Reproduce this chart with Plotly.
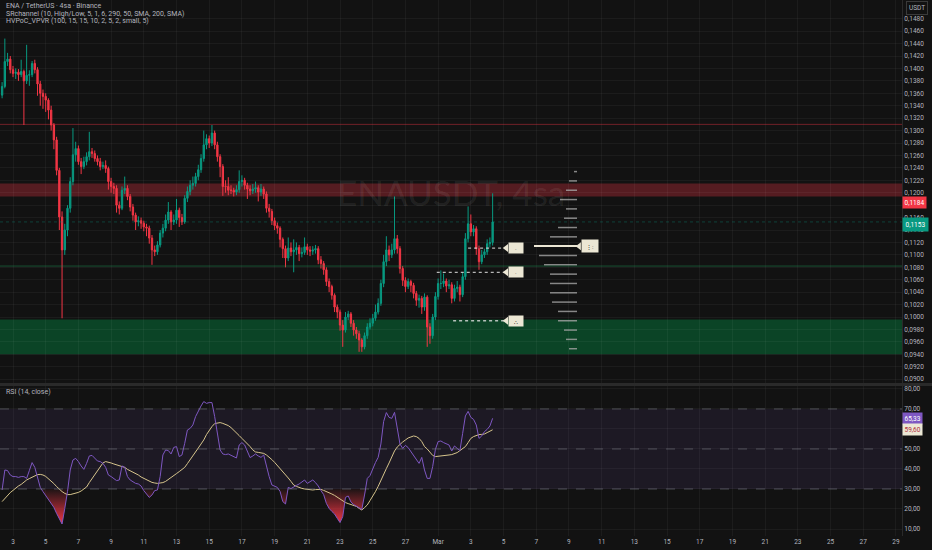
import pandas as pd
import plotly.graph_objects as go

# ENA / TetherUS 4h candles, prices in 1/10000 USDT
first_open = 1357
close_px = [
    1371, 1411, 1415, 1398, 1392, 1394, 1390, 1395, 1380, 1389,
    1390, 1408, 1398, 1375, 1360, 1355, 1349, 1333, 1309, 1285,
    1236, 1161, 1108, 1140, 1175, 1218, 1261, 1271, 1250, 1242,
    1250, 1258, 1266, 1263, 1255, 1250, 1242, 1244, 1239, 1218,
    1210, 1207, 1180, 1175, 1204, 1207, 1194, 1177, 1164, 1153,
    1155, 1151, 1145, 1143, 1127, 1108, 1105, 1116, 1135, 1143,
    1156, 1169, 1153, 1156, 1172, 1160, 1153, 1191, 1202, 1212,
    1215, 1226, 1237, 1255, 1277, 1287, 1280, 1296, 1277, 1258,
    1242, 1210, 1210, 1204, 1204, 1201, 1205, 1218, 1220, 1212,
    1206, 1203, 1206, 1208, 1201, 1206, 1198, 1175, 1170, 1155,
    1147, 1143, 1125, 1110, 1095, 1111, 1105, 1108, 1112, 1102,
    1104, 1113, 1108, 1106, 1108, 1110, 1092, 1086, 1076, 1057,
    1049, 1035, 1016, 1008, 987, 979, 1000, 1005, 990, 979,
    973, 963, 952, 970, 984, 990, 998, 1008, 1022, 1054,
    1089, 1108, 1100, 1108, 1126, 1110, 1078, 1059, 1049, 1057,
    1051, 1038, 1027, 1030, 1016, 1032, 984, 970, 1000, 1033,
    1054, 1054, 1058, 1050, 1052, 1030, 1046, 1048, 1036, 1065,
    1126, 1150, 1137, 1142, 1110, 1089, 1100, 1105, 1118, 1120, 1153,
]
high_px = [
    1378, 1448, 1425, 1420, 1404, 1400, 1399, 1414, 1398, 1438,
    1397, 1412, 1414, 1402, 1380, 1366, 1360, 1352, 1340, 1312,
    1290, 1240, 1170, 1150, 1180, 1225, 1304, 1282, 1276, 1256,
    1258, 1265, 1298, 1272, 1268, 1260, 1256, 1250, 1252, 1242,
    1224, 1216, 1212, 1186, 1210, 1226, 1212, 1198, 1182, 1168,
    1162, 1160, 1155, 1150, 1147, 1132, 1115, 1122, 1140, 1150,
    1165, 1185, 1172, 1165, 1190, 1176, 1166, 1196, 1210, 1220,
    1226, 1232, 1245, 1262, 1300, 1294, 1292, 1309, 1300, 1282,
    1262, 1246, 1220, 1225, 1212, 1208, 1212, 1236, 1228, 1224,
    1216, 1212, 1214, 1218, 1212, 1214, 1210, 1202, 1182, 1174,
    1160, 1152, 1146, 1128, 1115, 1128, 1120, 1125, 1120, 1116,
    1112, 1128, 1118, 1114, 1114, 1116, 1114, 1098, 1090, 1080,
    1062, 1052, 1038, 1020, 1012, 995, 1008, 1010, 1008, 995,
    984, 978, 966, 975, 990, 998, 1005, 1020, 1030, 1060,
    1100, 1130, 1115, 1118, 1194, 1132, 1114, 1082, 1064, 1062,
    1060, 1055, 1042, 1036, 1034, 1038, 1035, 990, 1005, 1040,
    1062, 1075, 1070, 1062, 1060, 1056, 1052, 1058, 1052, 1072,
    1135, 1178, 1165, 1148, 1146, 1115, 1108, 1110, 1125, 1128, 1199,
]
low_px = [
    1352, 1368, 1404, 1392, 1386, 1383, 1380, 1386, 1309, 1375,
    1372, 1386, 1392, 1356, 1340, 1335, 1330, 1318, 1300, 1270,
    1228, 1140, 998, 1100, 1130, 1168, 1212, 1250, 1245, 1230,
    1238, 1244, 1252, 1256, 1250, 1244, 1236, 1238, 1232, 1205,
    1200, 1198, 1168, 1165, 1172, 1198, 1188, 1170, 1155, 1140,
    1146, 1142, 1138, 1130, 1118, 1084, 1098, 1100, 1112, 1128,
    1138, 1150, 1140, 1148, 1150, 1145, 1148, 1150, 1185, 1196,
    1205, 1210, 1220, 1232, 1250, 1270, 1272, 1275, 1270, 1250,
    1225, 1195, 1200, 1196, 1198, 1194, 1196, 1200, 1210, 1205,
    1190, 1196, 1198, 1200, 1186, 1195, 1190, 1168, 1160, 1148,
    1140, 1134, 1112, 1095, 1080, 1090, 1098, 1072, 1100, 1090,
    1096, 1100, 1100, 1098, 1100, 1102, 1085, 1078, 1068, 1050,
    1040, 1028, 1008, 998, 978, 952, 975, 995, 984, 970,
    965, 944, 944, 948, 965, 980, 985, 994, 1004, 1018,
    1048, 1082, 1090, 1095, 1102, 1102, 1070, 1050, 1040, 1045,
    1040, 1030, 1018, 1015, 1005, 1010, 952, 957, 965, 995,
    1028, 1045, 1048, 1040, 1045, 1022, 1025, 1040, 1025, 1032,
    1060, 1120, 1130, 1130, 1100, 1076, 1085, 1095, 1100, 1112, 1115,
]

# RSI (14, close) and its moving average
rsi_vals = [
    29.5, 39.5, 39.2, 37, 36.2, 36.2, 35.8, 36.2, 36.2, 35.3,
    39.2, 43.2, 40.8, 36.2, 30.8, 28.7, 26.8, 24.8, 22.8, 20.8,
    17.8, 15.3, 12.5, 20.3, 28.7, 39.5, 44.5, 45.3, 43.7, 41.5,
    39.8, 42.8, 46.5, 46.8, 45.5, 44, 43.7, 42.8, 40.8, 37,
    36.2, 35.2, 34.2, 34.5, 41.5, 40.8, 36.2, 34.5, 33.5, 32.8,
    32.5, 31.5, 29.2, 27.2, 25.8, 27, 29.2, 29.5, 36.2, 47,
    49.5, 49.2, 47.5, 50.8, 51.2, 46.2, 47, 52.8, 59.5, 60.3,
    62, 66.2, 69.2, 71.5, 73.7, 72.8, 73.2, 73.2, 66.2, 57,
    49.5, 47.5, 47.2, 47.5, 46.8, 46.2, 45.5, 52, 53.2, 52,
    48.7, 45.7, 46.5, 47.5, 46.5, 45.8, 47, 40.8, 36.2, 32,
    31.2, 30.8, 28.8, 23.7, 22.5, 30.8, 30.2, 31.2, 31.8, 32.5,
    33.5, 34.5, 32.8, 33.7, 34.5, 33.2, 31.5, 29.2, 27.2, 22.8,
    20.3, 18.8, 17.5, 15.3, 13.2, 16.2, 25.8, 26.5, 23.5, 22.2,
    21.5, 20.5, 19.8, 27, 35.3, 36.7, 40.3, 43.2, 45.8, 52.5,
    63.7, 68.2, 65.8, 65.3, 68.3, 61.2, 52.5, 50.3, 51.8, 50.7,
    48.7, 46.5, 44.8, 42.8, 45.8, 39.5, 35.3, 35.3, 41.2, 49.8,
    53.7, 54, 53.2, 52.5, 52, 49, 51.5, 50.3, 49.2, 57.8,
    66.5, 68.8, 65.8, 64.8, 62, 55.3, 56.5, 58.7, 59.8, 61.5, 65.33,
]
rsi_ma = [
    23.7, 25.3, 26.7, 28.2, 29.3, 30.5, 31.5, 32.3, 33.5, 34.5,
    35.2, 35.8, 36.5, 37.2, 37.3, 37, 36.3, 35.2, 34, 32.7,
    31.2, 29.8, 28.7, 27.8, 27.2, 27.2, 27.5, 27.8, 28.3, 29,
    30, 31, 33.2, 35.2, 37, 39.2, 41.2, 43, 43.7, 43.5,
    43, 42.5, 42, 41.7, 41.3, 40.8, 39.8, 39.2, 38.5, 37.8,
    37, 36, 35.3, 34.5, 33.8, 33.3, 33, 32.8, 33, 33.2,
    33.8, 34.7, 35.5, 36.7, 37.7, 38.7, 39.7, 40.8, 42.7, 44.5,
    46.5, 48.5, 50.5, 52.5, 54.5, 57.2, 59.5, 61.2, 62.7, 63,
    63.2, 62.8, 62.3, 61.7, 60.7, 59.5, 58.2, 56.7, 55.3, 54,
    52.7, 51.2, 49.5, 48.5, 48.3, 48.2, 47.8, 47, 46, 44.7,
    43.3, 41.8, 40.5, 39, 37.2, 35.5, 33.8, 32, 31.3, 30.7,
    30.3, 30, 29.8, 29.7, 29.5, 29.7, 29.8, 29.8, 29.3, 28.8,
    28.2, 27.5, 26.8, 25.8, 24.8, 24, 23.2, 22.7, 22.3, 22,
    21.3, 20.3, 19.5, 20.7, 22, 24.2, 26.2, 28.7, 31.3, 34,
    37.3, 40.2, 43, 46, 49, 51, 52.5, 53.5, 54.5, 55.5,
    56, 56.5, 56.2, 55.3, 53.7, 51.2, 50, 48.2, 46.8, 46.2,
    46.3, 46.5, 46.7, 46.8, 47, 47.2, 47.7, 48.2, 49.2, 50,
    51.2, 53.2, 55.3, 56.2, 56.8, 57.2, 57.3, 57.5, 58.2, 58.8, 59.6,
]

# SRchannel levels
res_zone = [0.1194, 0.1215]
sup_zone = [0.0940, 0.0996]
res_line = 0.1310
sup_line = 0.1082
sr_label = 0.1184

# HVPoC_VPVR rows (price in 1/10000, relative volume)
vp_price = [1234, 1219, 1204, 1189, 1174, 1159, 1144, 1129, 1114, 1099,
            1084, 1069, 1054, 1039, 1024, 1009, 994, 979, 964, 949]
vp_vol = [3, 8, 11, 17, 11, 13, 19, 27, 43, 38,
          33, 27, 27, 27, 25, 19, 19, 13, 11, 8]

# level tags
tag_price = [0.1111, 0.1072, 0.0994]
tag_from = ["2025-03-02 20:00", "2025-02-28 22:00", "2025-03-01 22:00"]
tag_to = "2025-03-05 04:00"
tag_text = ["·", "·", "∴"]
poc_tag_at = "2025-03-09 15:00"

# axis ticks
price_ticks = [0.0900, 0.0920, 0.0940, 0.0960, 0.0980, 0.1000, 0.1020, 0.1040,
               0.1060, 0.1080, 0.1100, 0.1120, 0.1140, 0.1160, 0.1180, 0.1200,
               0.1220, 0.1240, 0.1260, 0.1280, 0.1300, 0.1320, 0.1340, 0.1360,
               0.1380, 0.1400, 0.1420, 0.1440, 0.1460, 0.1480]
tick_days = ["2025-02-03", "2025-02-05", "2025-02-07", "2025-02-09", "2025-02-11",
             "2025-02-13", "2025-02-15", "2025-02-17", "2025-02-19", "2025-02-21",
             "2025-02-23", "2025-02-25", "2025-02-27", "2025-03-01", "2025-03-03",
             "2025-03-05", "2025-03-07", "2025-03-09", "2025-03-11", "2025-03-13",
             "2025-03-15", "2025-03-17", "2025-03-19", "2025-03-21", "2025-03-23",
             "2025-03-25", "2025-03-27", "2025-03-29"]
tick_text = ["3", "5", "7", "9", "11", "13", "15", "17", "19", "21", "23", "25", "27",
             "Mar", "3", "5", "7", "9", "11", "13", "15", "17", "19", "21", "23",
             "25", "27", "29"]

GREEN = "#089981"
RED = "#F23645"
BG = "#121212"
BEIGE = "#ECE7D4"
GRID = "rgba(255,255,255,0.045)"
TXT = "#b2b5be"
FONT = "Roboto"

t = pd.date_range("2025-02-02 08:00", periods=len(close_px), freq="4h")
opens = [first_open] + close_px[:-1]
o = [v / 10000 for v in opens]
h = [v / 10000 for v in high_px]
l = [v / 10000 for v in low_px]
c = [v / 10000 for v in close_px]
x_range = ["2025-02-02 04:55", "2025-03-29 08:53"]

fig = go.Figure()

# volume profile on a hidden overlay axis
poc = vp_vol.index(max(vp_vol))
vp_colors = [BEIGE if i == poc else "rgba(165,165,165,0.8)" for i in range(len(vp_vol))]
fig.add_trace(go.Bar(
    x=vp_vol, y=[p / 10000 for p in vp_price], orientation="h",
    xaxis="x3", yaxis="y", width=0.00024,
    marker=dict(color=vp_colors, line=dict(width=0)), hoverinfo="skip"))

fig.add_trace(go.Candlestick(
    x=t, open=o, high=h, low=l, close=c, xaxis="x", yaxis="y",
    increasing=dict(line=dict(color=GREEN, width=1), fillcolor=GREEN),
    decreasing=dict(line=dict(color=RED, width=1), fillcolor=RED),
    whiskerwidth=0))

# dotted lines to tags
for p, start in zip(tag_price, tag_from):
    fig.add_trace(go.Scatter(
        x=[start, tag_to], y=[p, p], mode="lines", xaxis="x", yaxis="y",
        line=dict(color="rgba(225,225,225,0.8)", width=1.3, dash="dot"),
        hoverinfo="skip"))
fig.add_trace(go.Scatter(
    x=[tag_to] * len(tag_price) + [poc_tag_at],
    y=tag_price + [vp_price[poc] / 10000], mode="markers", xaxis="x", yaxis="y",
    marker=dict(symbol="triangle-left", size=7, color=BEIGE), hoverinfo="skip"))

# RSI pane
band_lo = [30] * len(rsi_vals)
fig.add_trace(go.Scatter(x=t, y=band_lo, mode="lines", xaxis="x2", yaxis="y2",
                         line=dict(width=0), hoverinfo="skip"))
fig.add_trace(go.Scatter(
    x=t, y=[min(v, 30) for v in rsi_vals], mode="lines", xaxis="x2", yaxis="y2",
    line=dict(width=0), fill="tonexty",
    fillgradient=dict(type="vertical", colorscale=[[0, "rgba(242,54,69,1)"],
                                                   [1, "rgba(242,54,69,0.05)"]]),
    hoverinfo="skip"))
fig.add_trace(go.Scatter(x=t, y=rsi_ma, mode="lines", xaxis="x2", yaxis="y2",
                         line=dict(color="rgb(214,196,140)", width=1)))
fig.add_trace(go.Scatter(x=t, y=rsi_vals, mode="lines", xaxis="x2", yaxis="y2",
                         line=dict(color="#7E57C2", width=1)))

shapes = [
    dict(type="rect", xref="paper", yref="y", x0=0, x1=1, y0=res_zone[0], y1=res_zone[1],
         fillcolor="rgba(242,54,69,0.3)", line=dict(width=0), layer="below"),
    dict(type="rect", xref="paper", yref="y", x0=0, x1=1, y0=sup_zone[0], y1=sup_zone[1],
         fillcolor="rgba(0,150,70,0.38)", line=dict(width=0), layer="below"),
    dict(type="line", xref="paper", yref="y", x0=0, x1=1, y0=res_line, y1=res_line,
         line=dict(color="rgba(242,54,69,0.42)", width=1)),
    dict(type="line", xref="paper", yref="y", x0=0, x1=1, y0=sup_line, y1=sup_line,
         line=dict(color="rgba(30,160,90,0.45)", width=1)),
    dict(type="line", xref="paper", yref="y", x0=0, x1=1, y0=c[-1], y1=c[-1],
         line=dict(color="rgba(8,153,129,0.35)", width=1, dash="dot")),
    dict(type="rect", xref="paper", yref="y2", x0=0, x1=1, y0=30, y1=70,
         fillcolor="rgba(126,87,194,0.1)", line=dict(width=0), layer="below"),
    dict(type="line", xref="paper", yref="paper", x0=0, x1=1.04, y0=0.2826, y1=0.2826,
         line=dict(color="#2a2a2a", width=3)),
]
for lvl in [70, 50, 30]:
    shapes.append(dict(type="line", xref="paper", yref="y2", x0=0, x1=1, y0=lvl, y1=lvl,
                       line=dict(color="rgba(120,123,134,0.55)", width=1, dash="dash")))

small = dict(family=FONT, size=7, color=TXT)
annotations = [
    dict(text="ENAUSDT, 4sa", xref="paper", yref="y domain", x=0.5, y=0.5,
         showarrow=False, font=dict(family="Lato", size=35, color="rgba(255,255,255,0.085)")),
    dict(text="ENA / TetherUS · 4sa · Binance", xref="paper", yref="paper", x=0.004,
         y=0.9888, xanchor="left", yanchor="middle", showarrow=False, font=small),
    dict(text="SRchannel (10, High/Low, 5, 1, 6, 290, 50, SMA, 200, SMA)", xref="paper",
         yref="paper", x=0.004, y=0.9739, xanchor="left", yanchor="middle",
         showarrow=False, font=small),
    dict(text="HVPoC_VPVR (100, 15, 15, 10, 2, 5, 2, small, 5)", xref="paper",
         yref="paper", x=0.004, y=0.9614, xanchor="left", yanchor="middle",
         showarrow=False, font=small),
    dict(text="RSI (14, close)", xref="paper", yref="paper", x=0.004, y=0.2687,
         xanchor="left", yanchor="middle", showarrow=False, font=small),
    dict(text="USDT", xref="paper", yref="paper", x=1.004, y=0.9845, xanchor="left",
         yanchor="middle", showarrow=False, font=dict(family=FONT, size=6.5, color=TXT),
         bordercolor="#3a3a3a", borderwidth=1, borderpad=2, bgcolor=BG),
    dict(text=f"{sr_label:.4f}".replace(".", ","), xref="paper", yref="y", x=1.0,
         y=sr_label, xanchor="left", yanchor="middle", showarrow=False,
         font=dict(family=FONT, size=6.5, color="white"), bgcolor=RED, borderpad=1.5),
    dict(text=f"{c[-1]:.4f}".replace(".", ","), xref="paper", yref="y", x=1.0,
         y=c[-1], yshift=-3, xanchor="left", yanchor="middle", showarrow=False,
         font=dict(family=FONT, size=6.5, color="white"), bgcolor=GREEN, borderpad=2.5),
    dict(text=f"{rsi_vals[-1]:.2f}".replace(".", ","), xref="paper", yref="y2", x=1.0,
         y=rsi_vals[-1], xanchor="left", yanchor="middle", showarrow=False,
         font=dict(family=FONT, size=6.5, color="white"), bgcolor="#7E57C2", borderpad=1.5),
    dict(text=f"{rsi_ma[-1]:.2f}".replace(".", ","), xref="paper", yref="y2", x=1.0,
         y=rsi_ma[-1], xanchor="left", yanchor="middle", showarrow=False,
         font=dict(family=FONT, size=6.5, color="#b03040"), bgcolor=BEIGE, borderpad=1.5),
]
for p, txt in zip(tag_price, tag_text):
    annotations.append(dict(text=txt, x=tag_to, y=p, xref="x", yref="y", xanchor="left",
                            xshift=2, showarrow=False, bgcolor=BEIGE, width=12, height=8,
                            font=dict(family=FONT, size=6, color="#333333")))
annotations.append(dict(text="⋮:", x=poc_tag_at, y=vp_price[poc] / 10000, xref="x",
                        yref="y", xanchor="left", xshift=2, showarrow=False, bgcolor=BEIGE,
                        width=14, height=10, font=dict(family=FONT, size=6, color="#333333")))

fig.update_layout(
    width=932, height=550,
    margin=dict(l=0, r=30, t=0, b=14),
    paper_bgcolor=BG, plot_bgcolor=BG,
    separators=",.",
    showlegend=False,
    font=dict(family=FONT, color=TXT),
    shapes=shapes,
    annotations=annotations,
    xaxis=dict(domain=[0, 1], anchor="y", type="date", range=x_range,
               rangeslider=dict(visible=False), tickvals=tick_days, ticktext=tick_text,
               showticklabels=False, showgrid=True, gridcolor=GRID, zeroline=False),
    xaxis2=dict(domain=[0, 1], anchor="y2", type="date", matches="x", range=x_range,
                tickvals=tick_days, ticktext=tick_text, showgrid=True, gridcolor=GRID,
                tickfont=dict(family=FONT, size=6.5, color=TXT), ticks="", zeroline=False),
    xaxis3=dict(overlaying="x", anchor="y", range=[577, -325], visible=False),
    yaxis=dict(domain=[0.2854, 1], anchor="x", side="right", range=[0.08938, 0.15101],
               tickvals=price_ticks, tickformat=".4f", showgrid=True, gridcolor=GRID,
               tickfont=dict(family=FONT, size=6.5, color=TXT), ticks="", zeroline=False,
               showline=True, linecolor="#2a2a2a"),
    yaxis2=dict(domain=[0, 0.2799], anchor="x2", side="right", range=[6.5, 81.5],
                tick0=10, dtick=10, tickformat=".2f", showgrid=True, gridcolor=GRID,
                tickfont=dict(family=FONT, size=6.5, color=TXT), ticks="", zeroline=False,
                showline=True, linecolor="#2a2a2a"),
)

# the page body has a default 8px margin; drop it so the chart fills the window
fig.write_html("out.html", config={"displayModeBar": False},
               post_script="document.body.style.margin='0px';document.body.style.background='#121212';")
